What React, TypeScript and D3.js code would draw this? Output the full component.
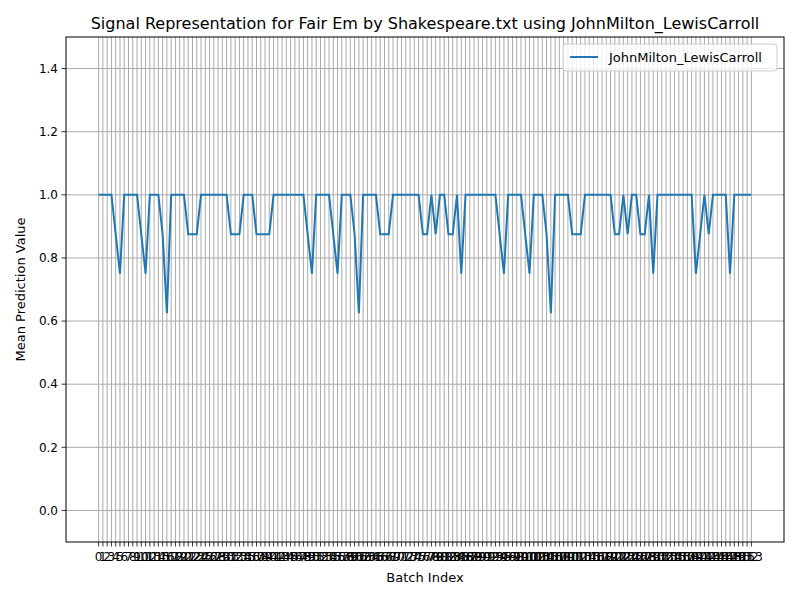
import * as d3 from "d3";
import { useEffect, useRef } from "react";

const seriesName = "JohnMilton_LewisCarroll";
const title = "Signal Representation for Fair Em by Shakespeare.txt using JohnMilton_LewisCarroll";
const values = [
  1, 1, 1, 1, 0.875, 0.75, 1, 1, 1, 1,
  0.875, 0.75, 1, 1, 1, 0.875, 0.625, 1, 1, 1,
  1, 0.875, 0.875, 0.875, 1, 1, 1, 1, 1, 1,
  1, 0.875, 0.875, 0.875, 1, 1, 1, 0.875, 0.875, 0.875,
  0.875, 1, 1, 1, 1, 1, 1, 1, 1, 0.875,
  0.75, 1, 1, 1, 1, 0.875, 0.75, 1, 1, 1,
  0.875, 0.625, 1, 1, 1, 1, 0.875, 0.875, 0.875, 1,
  1, 1, 1, 1, 1, 1, 0.875, 0.875, 1, 0.875,
  1, 1, 0.875, 0.875, 1, 0.75, 1, 1, 1, 1,
  1, 1, 1, 1, 0.875, 0.75, 1, 1, 1, 1,
  0.875, 0.75, 1, 1, 1, 0.875, 0.625, 1, 1, 1,
  1, 0.875, 0.875, 0.875, 1, 1, 1, 1, 1, 1,
  1, 0.875, 0.875, 1, 0.875, 1, 1, 0.875, 0.875, 1,
  0.75, 1, 1, 1, 1, 1, 1, 1, 1, 1,
  0.75, 0.875, 1, 0.875, 1, 1, 1, 1, 0.75, 1,
  1, 1, 1, 1,
];
const yTicks = [0, 0.2, 0.4, 0.6, 0.8, 1.0, 1.2, 1.4];

const W = 800, H = 600;
const m = { left: 66, right: 784, top: 37, bottom: 542 };
const font = "DejaVu Sans, sans-serif";

export default function App() {
  const ref = useRef<SVGSVGElement>(null);
  useEffect(() => {
    const svg = d3.select(ref.current);
    svg.selectAll("*").remove();
    const n = values.length;
    const x = d3.scaleLinear().domain([-7.65, n - 1 + 7.65]).range([m.left, m.right]);
    const y = d3.scaleLinear().domain([-0.1, 1.5]).range([m.bottom, m.top]);
    const idx = d3.range(n);

    svg.append("rect").attr("width", W).attr("height", H).attr("fill", "white");

    // grid
    const g = svg.append("g").attr("stroke", "#aaaaaa").attr("stroke-width", 1);
    idx.forEach((i) => g.append("line").attr("x1", x(i)).attr("x2", x(i)).attr("y1", m.top).attr("y2", m.bottom));
    yTicks.forEach((t) => g.append("line").attr("x1", m.left).attr("x2", m.right).attr("y1", y(t)).attr("y2", y(t)));

    const line = d3.line<number>().x((_, i) => x(i)).y((d) => y(d));
    svg.append("path").attr("d", line(values)!).attr("fill", "none")
      .attr("stroke", "#1f77b4").attr("stroke-width", 2);

    svg.append("rect").attr("x", m.left).attr("y", m.top).attr("width", m.right - m.left)
      .attr("height", m.bottom - m.top).attr("fill", "none").attr("stroke", "black").attr("stroke-width", 1);

    // x ticks
    const xt = svg.append("g").attr("font-family", font).attr("font-size", 12);
    idx.forEach((i) => {
      xt.append("line").attr("x1", x(i)).attr("x2", x(i)).attr("y1", m.bottom).attr("y2", m.bottom + 4.5)
        .attr("stroke", "black").attr("stroke-width", 0.8);
      xt.append("text").attr("x", x(i)).attr("y", m.bottom + 19).attr("text-anchor", "middle").text(i);
    });
    // y ticks
    yTicks.forEach((t) => {
      xt.append("line").attr("x1", m.left - 4.5).attr("x2", m.left).attr("y1", y(t)).attr("y2", y(t))
        .attr("stroke", "black").attr("stroke-width", 0.8);
      xt.append("text").attr("x", m.left - 8).attr("y", y(t)).attr("dy", "0.35em").attr("text-anchor", "end").text(t.toFixed(1));
    });

    svg.append("text").attr("x", (m.left + m.right) / 2).attr("y", 582).attr("text-anchor", "middle")
      .attr("font-family", font).attr("font-size", 13).text("Batch Index");
    svg.append("text").attr("transform", `translate(25,${(m.top + m.bottom) / 2}) rotate(-90)`).attr("text-anchor", "middle")
      .attr("font-family", font).attr("font-size", 13).text("Mean Prediction Value");
    svg.append("text").attr("x", (m.left + m.right) / 2).attr("y", 29).attr("text-anchor", "middle")
      .attr("font-family", font).attr("font-size", 16).text(title);

    // legend
    const lg = svg.append("g");
    lg.append("rect").attr("x", 563).attr("y", 44).attr("width", 214).attr("height", 27).attr("rx", 3)
      .attr("fill", "white").attr("fill-opacity", 0.8).attr("stroke", "#cccccc");
    lg.append("line").attr("x1", 570).attr("x2", 598).attr("y1", 57).attr("y2", 57).attr("stroke", "#1f77b4").attr("stroke-width", 2);
    lg.append("text").attr("x", 609).attr("y", 57).attr("dy", "0.35em").attr("font-family", font).attr("font-size", 13).text(seriesName);
  }, []);
  return <svg ref={ref} width={W} height={H} style={{ display: "block", margin: -8 }} />;
}
